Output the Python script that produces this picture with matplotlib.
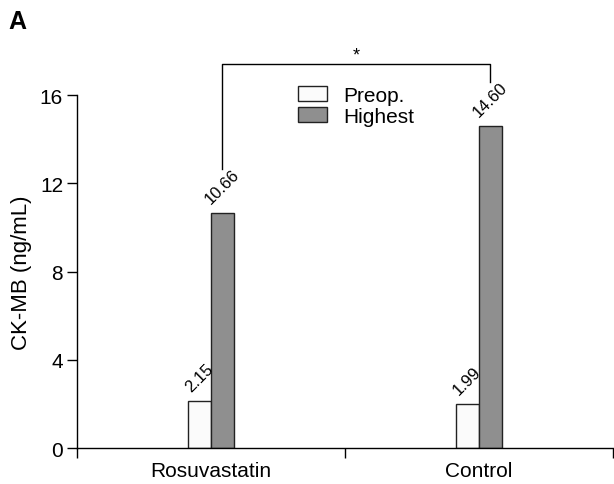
import matplotlib
matplotlib.use("Agg")
import matplotlib.pyplot as plt

plt.rcParams['font.family'] = ['Liberation Sans', 'DejaVu Sans']

categories = ["Rosuvastatin", "Control"]
series_names = ["Preop.", "Highest"]
preop = [2.15, 1.99]
highest = [10.66, 14.60]
yticks = [0, 4, 8, 12, 16]

fig = plt.figure(figsize=(6.14, 4.85), dpi=100)
ax = fig.add_axes([0.1254, 0.0742, 0.8726, 0.7278])

w = 0.085
xs = list(range(len(categories)))
b1 = ax.bar([x - w / 2 for x in xs], preop, width=w, color='#fbfbfb', edgecolor='#222222', linewidth=1.0, label=series_names[0])
b2 = ax.bar([x + w / 2 for x in xs], highest, width=w, color='#8f8f8f', edgecolor='#222222', linewidth=1.0, label=series_names[1])

for x, v in zip(xs, preop):
    ax.text(x - w / 2, v + 0.3, f"{v:.2f}", rotation=45, ha='center', va='bottom', fontsize=12)
for x, v in zip(xs, highest):
    ax.text(x + w / 2, v + 0.3, f"{v:.2f}", rotation=45, ha='center', va='bottom', fontsize=12)

ax.set_xlim(-0.5, 1.5)
ax.set_ylim(0, 16)
ax.set_yticks(yticks)
ax.set_yticklabels([str(t) for t in yticks], fontsize=15)
ax.set_xticks([-0.5, 0.5, 1.5])
ax.set_xticklabels(['', '', ''])
ax.set_xticks(xs, minor=True)
ax.set_xticklabels(categories, minor=True, fontsize=15)
ax.tick_params(axis='x', which='minor', length=0, pad=9)
ax.tick_params(axis='x', which='major', length=7, width=1, direction='out')
ax.tick_params(axis='y', length=7, width=1, direction='out', pad=3)
ax.spines['top'].set_visible(False)
ax.spines['right'].set_visible(False)
for s in ['left', 'bottom']:
    ax.spines[s].set_linewidth(1.0)
ax.set_ylabel("CK-MB (ng/mL)", fontsize=16, labelpad=6)

# significance bracket
x_left = xs[0] + w / 2
x_right = xs[1] + w / 2
ax.plot([x_left, x_left, x_right, x_right], [12.65, 17.4, 17.4, 16.6], color='black', lw=1.0, clip_on=False)
ax.text((x_left + x_right) / 2, 17.45, "*", ha='center', va='bottom', fontsize=13)

ax.legend(handles=[b1, b2], loc='upper left', bbox_to_anchor=(0.397, 1.05), frameon=False,
          fontsize=15, handlelength=1.4, handleheight=0.75, handletextpad=0.75, labelspacing=0.1,
          borderaxespad=0)

fig.text(0.013, 0.955, "A", fontsize=18, fontweight='bold', ha='left', va='center')

fig.savefig("out.png", dpi=100)
